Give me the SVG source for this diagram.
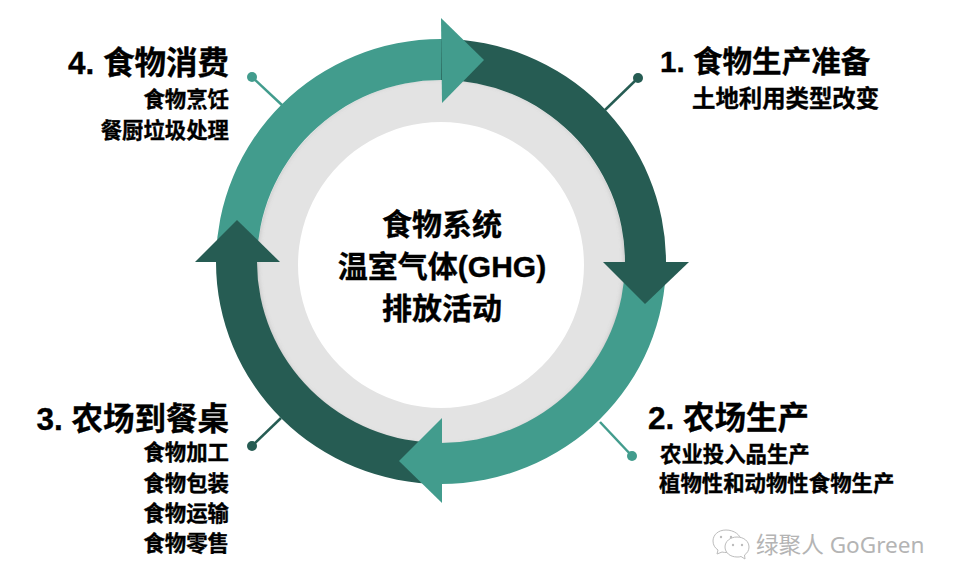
<svg xmlns="http://www.w3.org/2000/svg" width="955" height="587" viewBox="0 0 955 587">
<style>
text{font-family:"Liberation Sans","Noto Sans CJK SC",sans-serif;font-weight:700;fill:#000;stroke:#000;stroke-width:.35px}
.t{font-size:31.500px}
.t1{font-size:29.600px}
.s{font-size:21.400px}
.s1{font-size:23.400px}
.c{font-size:30px;text-anchor:middle}
.e{text-anchor:end}
.dark{fill:#265c53}
.teal{fill:#429c8d}
.ld{stroke:#265c53;stroke-width:2.5;fill:none}
.lt{stroke:#429c8d;stroke-width:2.5;fill:none}
text.w{font-family:"Noto Sans","Noto Sans CJK SC",sans-serif;font-weight:400;fill:#b4b4b4;stroke:none;font-size:22.600px}
.wi{fill:#fff;stroke:#bcbcbc;stroke-width:1}
.wd{fill:#bcbcbc}
</style>
<defs>
<filter id="sh" x="-10%" y="-10%" width="120%" height="120%"><feGaussianBlur stdDeviation="2"/></filter>
</defs>
<rect width="955" height="587" fill="#fff"/>
<g id="ring">
<path fill="#e3e3e3" fill-rule="evenodd" d="M441 80a184 184 0 1 0 .01 0zM441 122a143 143 0 1 1-.01 0z"/>
<circle cx="441" cy="262" r="185" fill="none" stroke="#8a8a8a" stroke-opacity=".45" stroke-width="3" filter="url(#sh)"/>
</g>
<g id="connectors">
<path class="ld" d="M638 78L605 110"/>
<path class="lt" d="M632 456L600 422"/>
<path class="ld" d="M252 446L281 418"/>
<path class="lt" d="M252 77L283 106"/>
<circle class="dark" cx="638" cy="78" r="5"/>
<circle class="teal" cx="632" cy="456" r="5"/>
<circle class="dark" cx="252" cy="446" r="5"/>
<circle class="teal" cx="252" cy="77" r="5"/>
</g>
<g id="cycle">
<path class="dark" d="M441 39A225 223 0 0 1 666 262H625A184 182 0 0 0 441 80Z"/>
<path class="teal" d="M666 262A225 222 0 0 1 441 484V443A184 181 0 0 0 625 262Z"/>
<path class="dark" d="M441 484A225 222 0 0 1 216 262H257A184 181 0 0 0 441 443Z"/>
<path class="teal" d="M216 262A225 223 0 0 1 441 39V80A184 182 0 0 0 257 262Z"/>
<path class="teal" d="M441 18L484 60L442 103Z"/>
<path class="dark" d="M603 262H689L645 304Z"/>
<path class="teal" d="M442 418V503L399 461Z"/>
<path class="dark" d="M195 262H280L237 220Z"/>
</g>
<g id="center"><text class="c" x="442" y="235">食物系统</text><text class="c" x="442" y="277">温室气体(GHG)</text><text class="c" x="442" y="319">排放活动</text></g>
<g id="step1"><text class="t1" x="660" y="72">1. 食物生产准备</text><text class="s1" x="692" y="107">土地利用类型改变</text></g>
<g id="step2"><text class="t" x="648" y="429">2. 农场生产</text><text class="s" x="660" y="462">农业投入品生产</text><text class="s" x="659" y="491">植物性和动物性食物生产</text></g>
<g id="step3"><text class="t e" x="229" y="430">3. 农场到餐桌</text><text class="s e" x="229" y="460">食物加工</text><text class="s e" x="229" y="491">食物包装</text><text class="s e" x="229" y="521">食物运输</text><text class="s e" x="229" y="551">食物零售</text></g>
<g id="step4"><text class="t e" x="229" y="74">4. 食物消费</text><text class="s e" x="229" y="107">食物烹饪</text><text class="s e" x="229" y="138">餐厨垃圾处理</text></g>
<g id="watermark">
<path class="wi" d="M726 530c-8 0-13 5-13 11 0 4 2 7 5 9l-1 4 5-2c2 .5 3 .5 5 .5 8 0 14-5 14-11.500 0-6-7-11-15-11z"/>
<path class="wi" d="M737 537c-7 0-12 4.500-12 10s5 10 12 10c1.500 0 3 0 4-.5l4 2.500-.5-4c3-2 4.500-5 4.500-8 0-5.500-5-10-12-10z"/>
<circle class="wd" cx="721" cy="537" r="1.200"/><circle class="wd" cx="731" cy="537" r="1.200"/><circle class="wd" cx="733" cy="545" r="1.200"/><circle class="wd" cx="742" cy="545" r="1.200"/>
<text class="w" x="756" y="553">绿聚人 GoGreen</text>
</g>
</svg>
